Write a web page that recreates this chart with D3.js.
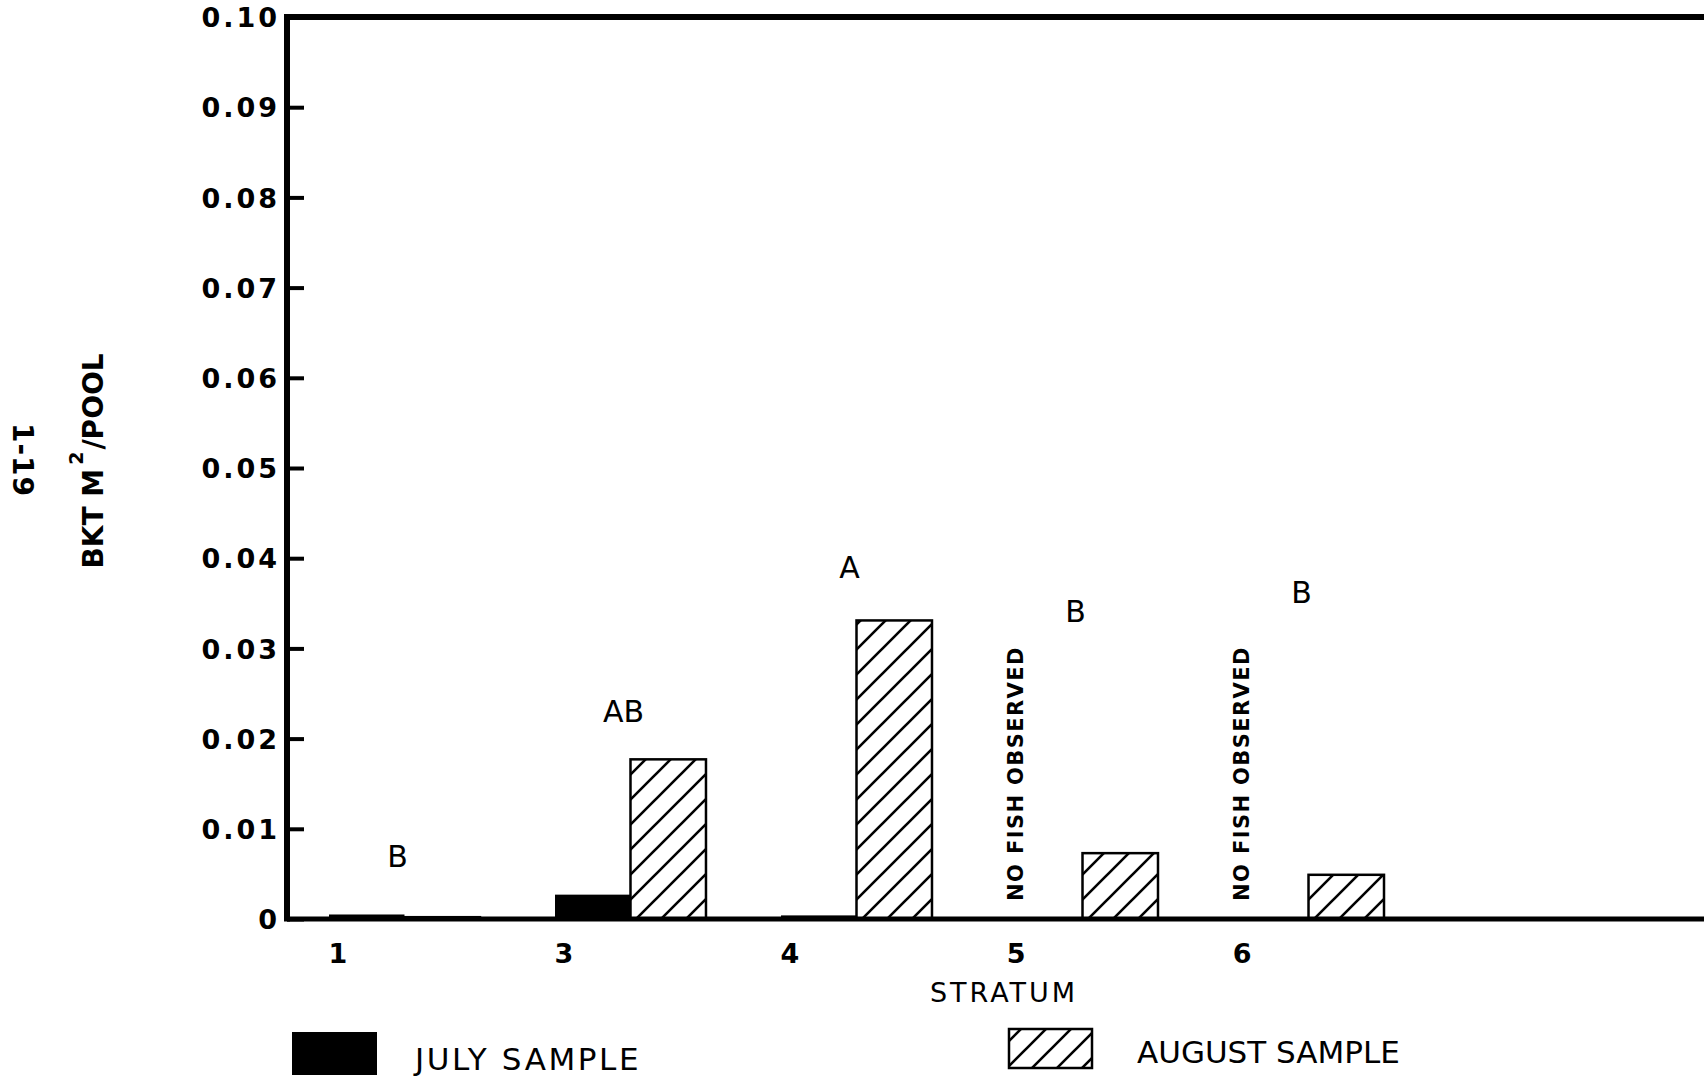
<!DOCTYPE html>
<html>
<head>
<meta charset="utf-8">
<script src="https://cdn.jsdelivr.net/npm/d3@7"></script>
<style>
  html, body { margin: 0; padding: 0; background: #fff; }
  svg { display: block; }
  text { font-family: "DejaVu Sans", "Noto Sans", sans-serif; fill: #000; }
</style>
</head>
<body>
<svg id="chart" width="1704" height="1078"></svg>
<script>
// Brook trout density by stratum, July vs. August samples
const strata = ["1", "3", "4", "5", "6"];
const julyValues = [0.0005, 0.0027, 0.0004, null, null];     // null = no fish observed
const augustValues = [0.0002, 0.0177, 0.0331, 0.0073, 0.0049];
const groupLetters = ["B", "AB", "A", "B", "B"];
const letterLevels = [0.0058, 0.0218, 0.0378, 0.0329, 0.0350]; // data-unit height of letter baselines
const yTicks = [0, 0.01, 0.02, 0.03, 0.04, 0.05, 0.06, 0.07, 0.08, 0.09, 0.10];
const seriesNames = ["JULY SAMPLE", "AUGUST SAMPLE"];
const noFishText = "NO FISH OBSERVED";

const W = 1704, H = 1078;
const axisX = 287, yTop = 17, yBottom = 919;

const svg = d3.select("#chart");

// diagonal hatch for the August bars
const defs = svg.append("defs");
const hatch = defs.append("pattern")
  .attr("id", "hatch")
  .attr("patternUnits", "userSpaceOnUse")
  .attr("width", 25).attr("height", 25);
hatch.append("rect").attr("width", 25).attr("height", 25).attr("fill", "#fff");
hatch.append("path")
  .attr("d", "M-3,3 L3,-3 M0,25 L25,0 M22,28 L28,22")
  .attr("stroke", "#000").attr("stroke-width", 2.6).attr("fill", "none");

const y = d3.scaleLinear().domain([0, 0.10]).range([yBottom, yTop]);

const x = d3.scaleBand()
  .domain(strata)
  .range([329, 1384])
  .paddingInner(0.332)
  .paddingOuter(0);

const sub = d3.scaleBand().domain(["july", "august"]).range([0, x.bandwidth()]).padding(0);

// y axis with inward ticks
const yAxis = d3.axisLeft(y)
  .tickValues(yTicks)
  .tickSize(-17)
  .tickSizeOuter(0)
  .tickPadding(7)
  .tickFormat(d => d === 0 ? "0" : d3.format(".2f")(d));

const gy = svg.append("g").attr("transform", `translate(${axisX},0)`).call(yAxis);
gy.select(".domain").remove();
gy.selectAll(".tick line").attr("stroke", "#000").attr("stroke-width", 4);
gy.selectAll(".tick text")
  .attr("font-family", "DejaVu Sans")
  .attr("font-size", 27).attr("font-weight", "bold")
  .attr("letter-spacing", 3)
  .attr("dy", "0.36em");

// frame: left axis, top rule, baseline
svg.append("line").attr("x1", axisX).attr("x2", axisX)
  .attr("y1", y(0.10) - 3).attr("y2", y(0) + 2.5)
  .attr("stroke", "#000").attr("stroke-width", 6);
svg.append("line").attr("x1", axisX - 3).attr("x2", W)
  .attr("y1", y(0.10)).attr("y2", y(0.10))
  .attr("stroke", "#000").attr("stroke-width", 6);

// bars
const groups = svg.append("g").selectAll("g")
  .data(strata)
  .join("g")
  .attr("transform", d => `translate(${x(d)},0)`);

groups.filter((d, i) => julyValues[i] !== null)
  .append("rect")
  .attr("x", sub("july"))
  .attr("width", sub.bandwidth())
  .attr("y", d => y(julyValues[strata.indexOf(d)]))
  .attr("height", d => y(0) - y(julyValues[strata.indexOf(d)]))
  .attr("fill", "#000");

groups.append("rect")
  .attr("x", sub("august"))
  .attr("width", sub.bandwidth())
  .attr("y", d => y(augustValues[strata.indexOf(d)]))
  .attr("height", d => y(0) - y(augustValues[strata.indexOf(d)]))
  .attr("fill", "url(#hatch)")
  .attr("stroke", "#000")
  .attr("stroke-width", 2.5);

svg.append("line").attr("x1", axisX).attr("x2", W)
  .attr("y1", y(0)).attr("y2", y(0))
  .attr("stroke", "#000").attr("stroke-width", 5);

// significance letters
groups.append("text")
  .attr("x", x.bandwidth() / 2 - 7)
  .attr("y", d => y(letterLevels[strata.indexOf(d)]))
  .attr("text-anchor", "middle")
  .attr("font-size", 30)
  .text(d => groupLetters[strata.indexOf(d)]);

// "no fish observed" notes where July is empty
groups.filter((d, i) => julyValues[i] === null)
  .append("text")
  .attr("transform", `translate(16,${y(0) - 18}) rotate(-90)`)
  .attr("font-size", 21).attr("font-weight", "bold")
  .attr("letter-spacing", 1.4)
  .text(noFishText);

// category labels
groups.append("text")
  .attr("x", 9)
  .attr("y", 963)
  .attr("text-anchor", "middle")
  .attr("font-size", 27).attr("font-weight", "bold")
  .text(d => d);

svg.append("text")
  .attr("x", 1004).attr("y", 1002)
  .attr("text-anchor", "middle")
  .attr("font-size", 27)
  .attr("letter-spacing", 3)
  .text("STRATUM");

// y title
const yt = svg.append("text")
  .attr("transform", "translate(103,461) rotate(-90)")
  .attr("text-anchor", "middle")
  .attr("font-size", 28).attr("font-weight", "bold");
yt.append("tspan").text("BKT M");
yt.append("tspan").attr("dx", 4).attr("dy", -20).attr("font-size", 19).text("2");
yt.append("tspan").attr("dx", 2).attr("dy", 20).text("/POOL");

// page number
svg.append("text")
  .attr("transform", "translate(13,460) rotate(90)")
  .attr("text-anchor", "middle")
  .attr("font-size", 28).attr("font-weight", "bold")
  .attr("letter-spacing", 1)
  .text("1-19");

// legend
svg.append("rect").attr("x", 292).attr("y", 1032).attr("width", 85).attr("height", 43).attr("fill", "#000");
svg.append("text").attr("x", 415).attr("y", 1070)
  .attr("font-size", 31).attr("letter-spacing", 2.6)
  .text(seriesNames[0]);

svg.append("rect").attr("x", 1009).attr("y", 1029).attr("width", 83).attr("height", 39)
  .attr("fill", "url(#hatch)").attr("stroke", "#000").attr("stroke-width", 2.5);
svg.append("text").attr("x", 1137).attr("y", 1063)
  .attr("font-size", 31)
  .text(seriesNames[1]);
</script>
</body>
</html>
